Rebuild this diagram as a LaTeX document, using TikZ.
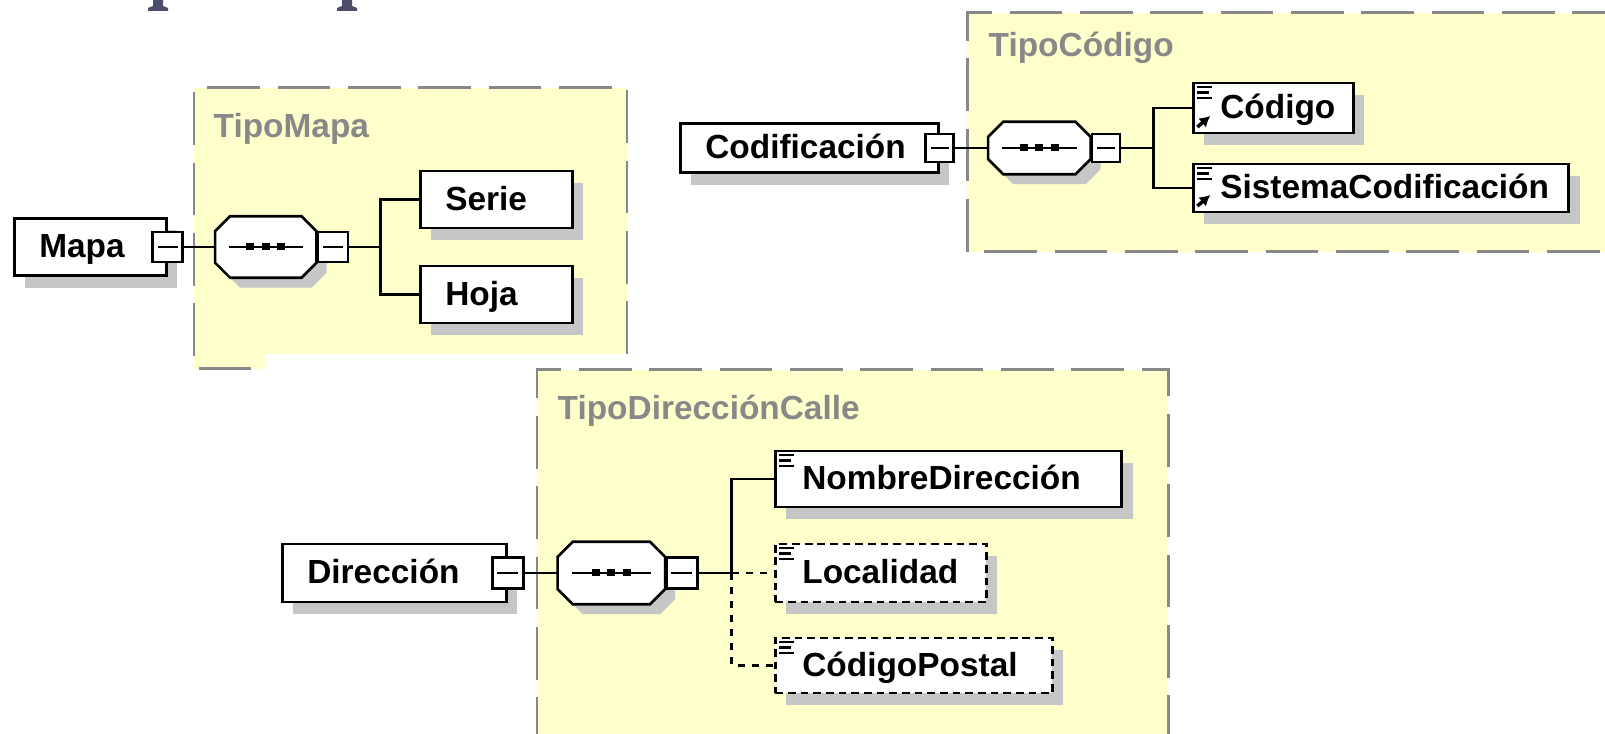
\documentclass[tikz,border=0pt]{standalone}
\usepackage{fontspec}
\setmainfont{Liberation Sans}
\usetikzlibrary{shadows, positioning, arrows.meta}

\definecolor{typeyellow}{HTML}{FFFFCC}
\definecolor{typegray}{HTML}{888888}
\definecolor{shadowgray}{HTML}{C6C6C6}
\definecolor{titleslate}{HTML}{4C4C6C}

\newcommand{\leaficon}{\foreach \iy/\il in {4/15,9.5/12,15/15} \draw[solid, line width=0.6pt] ([shift={(4,\iy)}]path picture bounding box.north west) -- ++(\il,0);}
\newcommand{\reficon}{\draw[solid, line width=1pt, -{Latex[length=3pt,width=3.4pt]}] ([shift={(4,-6)}]path picture bounding box.south west) -- ++(13,-11);}
% octagon of a sequence, drawn over its node
\newcommand{\seqsymbol}[1]{%
\fill[shadowgray, transform canvas={shift={(0.1cm,-0.1cm)}}] ([xshift=0.15cm]#1.north west) -- ([xshift=-0.15cm]#1.north east) -- ([yshift=-0.15cm]#1.north east) -- ([yshift=0.15cm]#1.south east) -- ([xshift=-0.15cm]#1.south east) -- ([xshift=0.15cm]#1.south west) -- ([yshift=0.15cm]#1.south west) -- ([yshift=-0.15cm]#1.north west) -- cycle;
\filldraw[fill=white, draw=black, line width=0.75pt] ([xshift=0.15cm]#1.north west) -- ([xshift=-0.15cm]#1.north east) -- ([yshift=-0.15cm]#1.north east) -- ([yshift=0.15cm]#1.south east) -- ([xshift=-0.15cm]#1.south east) -- ([xshift=0.15cm]#1.south west) -- ([yshift=0.15cm]#1.south west) -- ([yshift=-0.15cm]#1.north west) -- cycle;
\draw[line width=0.75pt] ([xshift=0.14cm]#1.west) -- ([xshift=-0.14cm]#1.east);
\foreach \dx in {-15.5,0,15.5} \fill[black] ([shift={({\dx-4},-3.5)}]#1.center) rectangle ++(8,7);}

\tikzstyle{element} = [rectangle, draw=black, fill=white, line width=0.75pt, inner xsep=0.25cm, inner ysep=0pt, align=left, text height=0.26cm, text depth=0.04cm, font=\fontsize{9.5pt}{11pt}\selectfont\bfseries, drop shadow={shadow xshift=0.11cm, shadow yshift=-0.12cm, fill=shadowgray, opacity=1}]
\tikzstyle{leaf} = [element, inner xsep=0.27cm, path picture={\leaficon}]
\tikzstyle{leafref} = [element, inner xsep=0.27cm, path picture={\leaficon \reficon}]
\tikzstyle{optional} = [dash pattern=on 2.2pt off 1.4pt]
\tikzstyle{collapse} = [rectangle, draw=black, fill=white, line width=0.75pt, minimum size=0.3cm, inner sep=0pt, path picture={\draw[line width=0.75pt] ([xshift=0.05cm]path picture bounding box.west) -- ([xshift=-0.05cm]path picture bounding box.east);}]
\tikzstyle{sequence} = [rectangle, minimum width=1.0cm, minimum height=0.6cm, inner sep=0pt]
\tikzstyle{conn} = [line width=0.75pt]
\tikzstyle{optline} = [dash pattern=on 2pt off 2pt]
\tikzstyle{typeline} = [draw=typegray, line width=0.85pt, dash pattern=on 15pt off 5pt]
\tikzstyle{typename} = [text=typegray, anchor=base west, inner sep=0pt, font=\fontsize{9.5pt}{11pt}\selectfont\bfseries]

\begin{document}
\begin{tikzpicture}[x=0.01cm, y=-0.01cm]
\useasboundingbox (0,0) rectangle (1605,734);
\clip (0,0) rectangle (1605,734);

%cut title above
\fill[titleslate] (153,0) -- (163,0) -- (163,6) -- (168,8) -- (168,11) -- (148,11) -- (148,8) -- (153,6) -- cycle;
\fill[titleslate] (342,0) -- (352,0) -- (352,6) -- (357,8) -- (357,11) -- (337,11) -- (337,8) -- (342,6) -- cycle;

%type boxes
\fill[typeyellow] (194,88) -- (627,88) -- (627,354) -- (265,354) -- (265,369) -- (194,369) -- cycle;
\draw[typeline] (627,354) -- (627,88) -- (194,88) -- (194,369) -- (265,369);
\node (tipomapa) [typename] at (213,138) {TipoMapa};
\fill[typeyellow] (967,13) rectangle (1625,252);
\draw[typeline] (1625,13) -- (967,13) -- (967,252) -- (1625,252);
\node (tipocodigo) [typename] at (988,57) {TipoCódigo};
\fill[typeyellow] (537,370) rectangle (1168,750);
\draw[typeline] (537,750) -- (537,370) -- (1168,370) -- (1168,750);
\node (tipodireccion) [typename] at (557,420) {TipoDirecciónCalle};

%Mapa
\node (mapa) [element, anchor=west, text width=1.02cm, minimum height=0.57cm] at (13,247) {Mapa};
\node (mapac) [collapse] at (mapa.east) {};
\node (seqmapa) [sequence, right=0.31cm of mapac] {};
\seqsymbol{seqmapa}
\node (seqmapac) [collapse, right=0cm of seqmapa] {};
\coordinate (brmapa) at ([xshift=0.31cm]seqmapac.east);
\node (serie) [element, anchor=west, text width=1.02cm, minimum height=0.57cm] at (419,199.5) {Serie};
\node (hoja) [element, below of=serie, node distance=0.95cm, text width=1.02cm, minimum height=0.57cm] {Hoja};

%Codificacion
\node (codif) [element, anchor=west, text width=2.08cm, minimum height=0.49cm] at (679,148) {Codificación};
\node (codifc) [collapse, minimum size=0.28cm] at (codif.east) {};
\node (seqcodif) [sequence, right=0.33cm of codifc, minimum width=1.01cm, minimum height=0.51cm] {};
\seqsymbol{seqcodif}
\node (seqcodifc) [collapse, minimum size=0.28cm, right=0cm of seqcodif] {};
\coordinate (brcodif) at ([xshift=0.32cm]seqcodifc.east);
\node (codigo) [leafref, anchor=west, text width=1.06cm, minimum height=0.50cm] at (1192,108) {Código};
\node (sistema) [leafref, anchor=west, text width=3.21cm, minimum height=0.48cm] at (1192,188) {SistemaCodificación};

%Direccion
\node (direccion) [element, anchor=west, text width=1.74cm, minimum height=0.58cm] at (281,573) {Dirección};
\node (direccionc) [collapse, minimum size=0.31cm] at (direccion.east) {};
\node (seqdir) [sequence, right=0.33cm of direccionc, minimum width=1.06cm, minimum height=0.61cm] {};
\seqsymbol{seqdir}
\node (seqdirc) [collapse, minimum size=0.31cm, right=0cm of seqdir] {};
\coordinate (brdir) at ([xshift=0.33cm]seqdirc.east);
\node (nombre) [leaf, anchor=west, text width=2.92cm, minimum height=0.56cm] at (774,479) {NombreDirección};
\node (localidad) [leaf, optional, anchor=west, text width=1.57cm, minimum height=0.58cm] at (774,573) {Localidad};
\node (postal) [leaf, optional, anchor=west, text width=2.23cm, minimum height=0.55cm] at (774,665.5) {CódigoPostal};

%connectors
\draw [conn] (mapac) -- (seqmapa);
\draw [conn] (seqmapac) -- (brmapa);
\draw [conn] (brmapa) |- (serie);
\draw [conn] (brmapa) |- (hoja);
\draw [conn] (codifc) -- (seqcodif);
\draw [conn] (seqcodifc) -- (brcodif);
\draw [conn] (brcodif) |- (codigo);
\draw [conn] (brcodif) |- (sistema);
\draw [conn] (direccionc) -- (seqdir);
\draw [conn] (seqdirc) -- (brdir);
\draw [conn] (brdir) |- (nombre);
\draw [conn, optline] (brdir) -- (localidad);
\draw [conn, optline] (brdir) |- (postal);

\end{tikzpicture}
\end{document}
